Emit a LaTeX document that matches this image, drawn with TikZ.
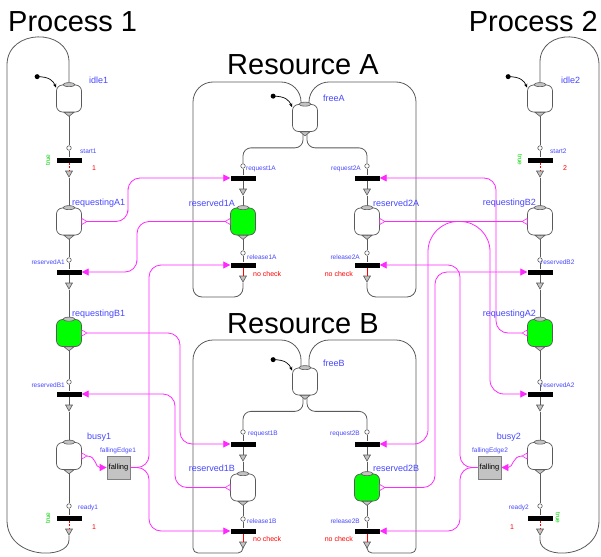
\documentclass[tikz,border=0pt]{standalone}
\usepackage{fontspec}
\setmainfont{Liberation Sans}
\usetikzlibrary{arrows.meta,shapes.geometric}
\definecolor{lblblue}{RGB}{70,70,255}
\definecolor{wiregray}{RGB}{90,90,90}
\definecolor{portgray}{RGB}{195,195,195}
\definecolor{truegreen}{RGB}{0,210,0}
\definecolor{sigmag}{RGB}{255,40,255}
\definecolor{stepgreen}{RGB}{0,255,0}
\definecolor{notered}{RGB}{255,0,0}

\begin{document}
\begin{tikzpicture}[x=1pt, y=-1pt,
  stepbox/.style={draw=wiregray, line width=0.7pt, rounded corners=6pt, minimum width=25pt, minimum height=27pt, inner sep=0pt},
  tbar/.style={fill=black, minimum width=25pt, minimum height=5pt, inner sep=0pt},
  tin/.style={circle, draw=wiregray, fill=white, line width=0.6pt, minimum size=4.5pt, inner sep=0pt},
  tout/.style={regular polygon, regular polygon sides=3, shape border rotate=180, draw=wiregray, fill=portgray, line width=0.6pt, minimum size=8pt, inner sep=0pt},
  port/.style={draw=wiregray, fill=portgray, line width=0.6pt},
  wire/.style={wiregray, line width=0.8pt},
  redline/.style={notered, line width=0.8pt},
  reddash/.style={notered, line width=0.8pt, dash pattern=on 2pt off 1.5pt},
  sig/.style={sigmag, line width=0.8pt, rounded corners=12pt, -{Triangle[length=7pt,width=7pt]}},
  sigport/.style={sigmag, fill=white, line width=0.6pt},
  title/.style={font=\fontsize{29}{30}\selectfont, anchor=base, inner sep=0pt},
  sname/.style={text=lblblue, font=\fontsize{9}{10}\selectfont, inner sep=0pt},
  tname/.style={text=lblblue, font=\fontsize{6.5}{7}\selectfont, inner sep=0pt},
  rednote/.style={text=notered, font=\fontsize{7}{8}\selectfont, inner sep=0pt},
  truenote/.style={text=truegreen, font=\fontsize{6.5}{7}\selectfont, inner sep=0pt},
  fallbox/.style={draw=gray, fill=portgray, line width=0.8pt, minimum size=23pt, inner sep=0pt, font=\fontsize{7.5}{8}\selectfont}
]
\useasboundingbox (0,0) rectangle (601,556);

\node[title, anchor=base west] (process1) at (8,32) {Process 1};
\node[title, anchor=base east] (process2) at (598,32) {Process 2};
\node[title] (resourceA) at (303,75) {Resource A};
\node[title] (resourceB) at (303,333) {Resource B};

\foreach \n/\x/\y/\c in {idle1/69/98.5/white, requestingA1/69/221.5/white, requestingB1/69/333/stepgreen, busy1/69/456/white,
  idle2/540/98.5/white, requestingB2/540/221.5/white, requestingA2/540/333/stepgreen, busy2/540/456/white,
  freeA/305/118/white, reserved1A/243/221.5/stepgreen, reserved2A/367/221.5/white,
  freeB/305/381.5/white, reserved1B/243/487.5/white, reserved2B/367/487.5/stepgreen}
  \node[stepbox, fill=\c] (\n) at (\x,\y) {};

\foreach \n/\x/\y/\s in {start1/69/160/reddash, reservedA1/69/272/wire, reservedB1/69/394/wire, ready1/69/518/reddash,
  start2/540/160/reddash, reservedB2/540/272/wire, reservedA2/540/394/wire, ready2/540/518/reddash,
  request1A/243/178/wire, request2A/367/178/wire, release1A/243/265/redline, release2A/367/265/redline,
  request1B/243/444/wire, request2B/367/444/wire, release1B/243/531/redline, release2B/367/531/redline}
{
  \node[tbar] (\n) at (\x,\y) {};
  \node[tin] (\n-in) at (\x,\y-12) {};
  \node[tout] (\n-out) at (\x,\y+13) {};
  \draw[wire] (\n-in) -- (\n);
  \draw[\s] (\n) -- (\n-out);
}

\node[fallbox] (fallingEdge1) at (118.5,467.5) {falling};
\node[fallbox] (fallingEdge2) at (489.5,467.5) {falling};

\foreach \a/\b in {idle1/start1, requestingA1/reservedA1, requestingB1/reservedB1, busy1/ready1,
  idle2/start2, requestingB2/reservedB2, requestingA2/reservedA2, busy2/ready2,
  reserved1A/release1A, reserved2A/release2A, reserved1B/release1B, reserved2B/release2B}
  \draw[wire] (\a) -- (\b-in);
\foreach \a/\b in {start1/requestingA1, reservedA1/requestingB1, reservedB1/busy1,
  start2/requestingB2, reservedB2/requestingA2, reservedA2/busy2,
  request1A/reserved1A, request2A/reserved2A, request1B/reserved1B, request2B/reserved2B}
  \draw[wire] (\a-out) -- (\b);

\draw[wire, rounded corners=8pt] ([xshift=-2pt]freeA.south) -- ++(0,16) -| (request1A-in);
\draw[wire, rounded corners=8pt] ([xshift=2pt]freeA.south) -- ++(0,16) -| (request2A-in);
\draw[wire, rounded corners=8pt] ([xshift=-2pt]freeB.south) -- ++(0,16) -| (request1B-in);
\draw[wire, rounded corners=8pt] ([xshift=2pt]freeB.south) -- ++(0,16) -| (request2B-in);

\draw[wire] (release1A-out) [rounded corners=9pt] |- (193,297) [rounded corners=20pt] -- (193,82) -| ([xshift=-4pt]freeA.north);
\draw[wire] (release2A-out) [rounded corners=9pt] |- (416,297) [rounded corners=20pt] -- (416,82) -| ([xshift=4pt]freeA.north);
\draw[wire] (release1B-out) [rounded corners=5pt] |- (193,553) [rounded corners=20pt] -- (193,340) -| ([xshift=-4pt]freeB.north);
\draw[wire] (release2B-out) [rounded corners=5pt] |- (416,553) [rounded corners=20pt] -- (416,340) -| ([xshift=4pt]freeB.north);

\draw[wire] (ready1-out) -- (69,540) .. controls (69,560) and (7,560) .. (7,520) -- (7,65) .. controls (7,28) and (69,28) .. (69,62) -- (idle1.north);
\draw[wire] (ready2-out) -- (540,540) .. controls (540,560) and (599,560) .. (599,520) -- (599,65) .. controls (599,28) and (540,28) .. (540,62) -- (idle2.north);

\foreach \n in {idle1, requestingA1, requestingB1, busy1, idle2, requestingB2, requestingA2, busy2,
  freeA, reserved1A, reserved2A, freeB, reserved1B, reserved2B}
{
  \draw[port] (\n.north) ellipse (6 and 2);
  \draw[port] ([xshift=-5pt]\n.south) -- ([xshift=5pt]\n.south) -- ([yshift=-4pt]\n.south) -- cycle;
}

\foreach \n in {idle1, idle2, freeA, freeB}
{
  \fill ([shift={(-19,-8)}]\n.north west) circle (2.5);
  \draw[line width=0.7pt, -{Stealth[length=4pt,width=3.5pt]}] ([shift={(-19,-8)}]\n.north west) .. controls +(12,0) and +(-3,-7) .. ([shift={(0,3)}]\n.north west);
}

\draw[sig] ([xshift=5pt]requestingA1.east) -| (128,200) |- (request1A.west);
\draw[sig] ([xshift=-5pt]reserved1A.west) -| (137,250) |- (reservedA1.east);
\draw[sig] (fallingEdge1.east) -| (149,400) |- (release1A.west);
\draw[sig] (fallingEdge1.east) -| (149,500) |- (release1B.west);
\draw[sig] ([xshift=5pt]requestingB1.east) -| (180,400) |- (request1B.west);
\draw[sig] ([xshift=-5pt]reserved1B.west) -| (175,440) |- (reservedB1.east);
\draw[sig] ([xshift=5pt]busy1.east) .. controls +(10,0) and +(-12,0) .. (fallingEdge1.west);
\draw[sig] ([xshift=-5pt]requestingA2.west) -| (496,250) |- (request2A.east);
\draw[sig, rounded corners=30pt] ([xshift=5pt]reserved2A.east) -| (490,300) [rounded corners=14pt] |- (reservedA2.west);
\draw[sig, rounded corners=30pt] ([xshift=-5pt]requestingB2.west) -| (428,300) [rounded corners=14pt] |- (request2B.east);
\draw[sig] ([xshift=5pt]reserved2B.east) -| (435,400) |- (reservedB2.west);
\draw[sig] (fallingEdge2.west) -| (460,400) |- (release2A.east);
\draw[sig] (fallingEdge2.west) -| (460,500) |- (release2B.east);
\draw[sig] ([xshift=-5pt]busy2.west) .. controls +(-10,0) and +(12,0) .. (fallingEdge2.east);

\foreach \n in {requestingA1, requestingB1, busy1, reserved2A, reserved2B}
  \draw[sigport] ([yshift=3pt]\n.east) -- ([xshift=5pt]\n.east) -- ([yshift=-3pt]\n.east) -- cycle;
\foreach \n in {requestingB2, requestingA2, busy2, reserved1A, reserved1B}
  \draw[sigport] ([yshift=3pt]\n.west) -- ([xshift=-5pt]\n.west) -- ([yshift=-3pt]\n.west) -- cycle;

\foreach \n/\a/\x/\y in {idle1/west/89/80, requestingA1/west/72/203, requestingB1/west/72/314, busy1/west/87/437,
  idle2/west/561/80, requestingB2/east/536/203, requestingA2/east/536/314, busy2/east/521/437,
  freeA/west/323/98, reserved1A/east/235/203, reserved2A/west/373/203,
  freeB/west/323/363, reserved1B/east/235/468, reserved2B/west/373/468}
  \node[sname, anchor=\a] (\n-lbl) at (\x,\y) {\n};

\foreach \n/\a/\x/\y in {start1/west/80/151, reservedA1/east/65/262, reservedB1/east/65/385, ready1/west/78/508,
  start2/west/550/151, reservedB2/west/541/262, reservedA2/west/541/385, ready2/east/529/508,
  request1A/west/246/169, request2A/east/361/169, release1A/west/247/257, release2A/east/360/257,
  request1B/west/248/434, request2B/east/360/434, release1B/west/247/521, release2B/east/360/521,
  fallingEdge1/center/118/451, fallingEdge2/center/490/451}
  \node[tname, anchor=\a] (\n-lbl) at (\x,\y) {\n};

\node[rednote] (start1-wait) at (94,168) {1};
\node[rednote] (ready1-wait) at (94,527) {1};
\node[rednote] (start2-wait) at (565,168) {2};
\node[rednote] (ready2-wait) at (512,527) {1};
\node[rednote, anchor=west] (release1A-note) at (253,274) {no check};
\node[rednote, anchor=east] (release2A-note) at (353,274) {no check};
\node[rednote, anchor=west] (release1B-note) at (253,539) {no check};
\node[rednote, anchor=east] (release2B-note) at (353,539) {no check};
\node[truenote, rotate=90] (start1-cond) at (48,160) {true};
\node[truenote, rotate=90] (ready1-cond) at (48,518) {true};
\node[truenote, rotate=-90] (start2-cond) at (520,160) {true};
\node[truenote, rotate=-90] (ready2-cond) at (558,518) {true};
\end{tikzpicture}
\end{document}
